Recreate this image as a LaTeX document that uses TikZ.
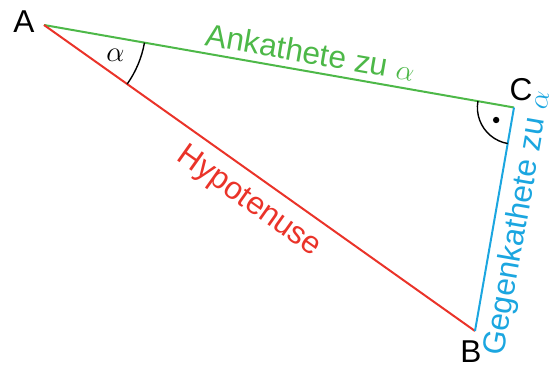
\documentclass[tikz,border=0pt]{standalone}
\usepackage{fontspec}
\setmainfont{Liberation Sans}
\usetikzlibrary{angles,quotes,calc}
\definecolor{adjgreen}{HTML}{4DB848}
\definecolor{hypred}{HTML}{EA3329}
\definecolor{oppblue}{HTML}{1BA6E0}
\tikzset{
  side/.style={line width=1pt},
  adjside/.style={side,adjgreen},
  hypside/.style={side,hypred},
  oppside/.style={side,oppblue},
  anglearc/.style={draw,line width=0.7pt},
  vertexlabel/.style={inner sep=0pt}
}
\begin{document}
\begin{tikzpicture}[x=0.5pt,y=0.5pt,font=\fontsize{15.8}{18}\selectfont]
  \useasboundingbox (0,0) rectangle (559,365);
  % corners of the triangle
  \coordinate (A) at (44,340);
  \coordinate (C) at (514,257.5);
  \coordinate (B) at (475,34);
  % sides
  \draw[adjside] (A) -- node[sloped,above,pos=0.56,text=adjgreen] {Ankathete zu $\alpha$} (C);
  \draw[hypside] (A) -- node[sloped,below=2pt,pos=0.51,text=hypred] {Hypotenuse} (B);
  \draw[oppside] (B) -- node[sloped,below=1pt,pos=0.5,text=oppblue] {Gegenkathete zu $\alpha$} (C);
  % angles
  \pic[anglearc,angle radius=51pt,angle eccentricity=0.76,pic text=$\alpha$] {angle=B--A--C};
  \pic[anglearc,angle radius=18.3pt] {angle=A--C--B};
  \fill ($(C)+(215:21.8)$) circle[radius=1.6pt];
  % labels
  \node[vertexlabel] (labA) at (24,343) {A};
  \node[vertexlabel] (labC) at (521,275) {C};
  \node[vertexlabel] (labB) at (471,13) {B};
\end{tikzpicture}
\end{document}
